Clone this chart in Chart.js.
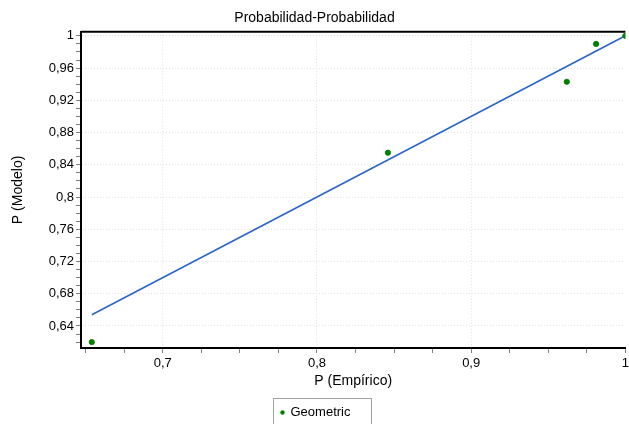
<!DOCTYPE html>
<html>
<head>
<meta charset="utf-8">
<script src="https://cdn.jsdelivr.net/npm/chart.js@4.4.0/dist/chart.umd.min.js"></script>
<style>
    html, body { margin: 0; padding: 0; background: #ffffff; }
    #wrap { width: 629px; height: 424px; position: relative; }
</style>
</head>
<body>
<div id="wrap"><canvas id="ppChart"></canvas></div>
<script>
// Data
const empirico = [0.654, 0.846, 0.962, 0.981, 1.0];
const modelo = [0.620, 0.855, 0.943, 0.990, 1.0];
const refLineX = [0.654, 1.0];
const refLineY = [0.654, 1.0];
const seriesName = 'Geometric';
const chartTitle = 'Probabilidad-Probabilidad';
const xTitle = 'P (Empírico)';
const yTitle = 'P (Modelo)';

const fontFamily = '"Liberation Sans", Arial, sans-serif';

// Format with a decimal comma
function fmt(v) {
    return String(Math.round(v * 1000) / 1000).replace('.', ',');
}

function isMultiple(v, step) {
    const q = v / step;
    return Math.abs(q - Math.round(q)) < 1e-6;
}

// Top border line and the boxed legend
const framePlugin = {
    id: 'frame',
    afterDraw(chart) {
        const ctx = chart.ctx;
        const a = chart.chartArea;
        ctx.save();
        ctx.strokeStyle = '#000000';
        ctx.lineWidth = 2;
        ctx.beginPath();
        ctx.moveTo(a.left, a.top);
        ctx.lineTo(a.right, a.top);
        ctx.stroke();

        // legend
        const bx = 273.5, by = 398.5, bw = 98, bh = 30;
        ctx.lineWidth = 1;
        ctx.strokeStyle = '#a0a0a0';
        ctx.strokeRect(bx, by, bw, bh);
        ctx.fillStyle = '#008000';
        ctx.beginPath();
        ctx.arc(bx + 9, by + 14, 2.2, 0, Math.PI * 2);
        ctx.fill();
        ctx.fillStyle = '#000000';
        ctx.font = '13px ' + fontFamily;
        ctx.textBaseline = 'middle';
        ctx.fillText(seriesName, bx + 17, by + 14);
        ctx.restore();
    }
};

const ctx = document.getElementById('ppChart').getContext('2d');
new Chart(ctx, {
    type: 'scatter',
    data: {
        datasets: [
            {
                label: seriesName,
                data: empirico.map((x, i) => ({ x: x, y: modelo[i] })),
                backgroundColor: '#008000',
                borderColor: '#008000',
                pointRadius: 2.6,
                pointHoverRadius: 2.6,
                order: 1
            },
            {
                label: 'ref',
                type: 'line',
                data: refLineX.map((x, i) => ({ x: x, y: refLineY[i] })),
                borderColor: '#2a66c8',
                borderWidth: 1.6,
                pointRadius: 0,
                fill: false,
                order: 2
            }
        ]
    },
    options: {
        responsive: true,
        maintainAspectRatio: false,
        animation: false,
        layout: { padding: { left: 0, right: 0, top: 0, bottom: 28 } },
        plugins: {
            legend: { display: false },
            tooltip: { enabled: false },
            title: {
                display: true,
                text: chartTitle,
                color: '#000000',
                font: { family: fontFamily, size: 14, weight: 'normal' },
                padding: { top: 10, bottom: 5 }
            }
        },
        scales: {
            x: {
                type: 'linear',
                min: 0.647,
                max: 1.0,
                border: { color: '#000000', width: 2, dash: [1, 2] },
                grid: {
                    color: c => isMultiple(c.tick.value, 0.1) && c.tick.value < 0.999 ? '#e2e2e2' : 'rgba(0,0,0,0)',
                    tickColor: c => isMultiple(c.tick.value, 0.025) ? '#808080' : 'rgba(0,0,0,0)',
                    tickLength: 5,
                    lineWidth: 1
                },
                ticks: {
                    stepSize: 0.025,
                    includeBounds: false,
                    autoSkip: false,
                    maxRotation: 0,
                    padding: 3,
                    color: '#000000',
                    font: { family: fontFamily, size: 13 },
                    callback: v => isMultiple(v, 0.1) ? fmt(v) : ''
                },
                title: {
                    display: true,
                    text: xTitle,
                    color: '#000000',
                    font: { family: fontFamily, size: 14 },
                    padding: { top: 0, bottom: 6 }
                },
                afterFit: s => { s.height = 48; s.paddingLeft = 0; s.paddingRight = 0; }
            },
            y: {
                type: 'linear',
                min: 0.6127,
                max: 1.005,
                border: { color: '#000000', width: 2, dash: [1, 2] },
                grid: {
                    color: c => isMultiple(c.tick.value, 0.04) ? '#e2e2e2' : 'rgba(0,0,0,0)',
                    tickColor: '#808080',
                    tickLength: 5,
                    lineWidth: 1
                },
                ticks: {
                    stepSize: 0.01,
                    includeBounds: false,
                    autoSkip: false,
                    padding: 2,
                    color: '#000000',
                    font: { family: fontFamily, size: 13 },
                    callback: v => isMultiple(v, 0.04) ? fmt(v) : ''
                },
                title: {
                    display: true,
                    text: yTitle,
                    color: '#000000',
                    font: { family: fontFamily, size: 14 },
                    padding: { top: 10, bottom: 0 }
                },
                afterFit: s => { s.width = 81; s.paddingTop = 0; s.paddingBottom = 0; }
            }
        }
    },
    plugins: [framePlugin]
});
</script>
</body>
</html>
